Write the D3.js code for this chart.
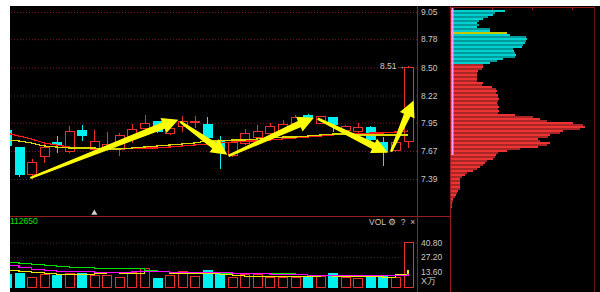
<!DOCTYPE html>
<html>
<head>
<meta charset="utf-8">
<script src="https://cdn.jsdelivr.net/npm/d3@7"></script>
<style>
  html, body { margin: 0; padding: 0; background: #fff; }
  svg { display: block; }
  text { font-family: "Liberation Sans", Arial, sans-serif; }
</style>
</head>
<body>
<div id="container"></div>
<script>
/* CONSTANTS AND GLOBALS */
const width = 600, height = 292;
const plotLeft = 10, plotRight = 417, profLeft = 450, profRight = 594;
const plotTop = 6, sep = 216;

/* DATA */
// candle index -1 is the half-hidden one at the left edge
const idx    = d3.range(-1, 32);
const opens  = [7.87,7.70,7.43,7.61,7.75,7.66,7.87,7.68,7.68,7.68,7.81,7.89,7.96,7.84,7.91,7.95,7.93,7.76,7.62,7.74,7.80,7.84,7.87,7.94,8.02,7.94,8.00,7.87,7.86,7.90,7.75,7.67,7.76];
const highs  = [7.90,7.71,7.59,7.75,7.82,7.92,7.93,7.88,7.86,7.85,7.94,8.03,7.97,7.90,8.02,8.02,8.01,7.82,7.76,7.89,7.93,7.95,7.98,8.03,8.04,8.02,8.01,7.93,7.95,7.92,7.81,7.75,8.51];
const lows   = [7.70,7.41,7.39,7.55,7.65,7.65,7.77,7.67,7.67,7.62,7.75,7.88,7.85,7.83,7.86,7.90,7.79,7.49,7.61,7.73,7.79,7.83,7.86,7.94,7.99,7.94,7.86,7.86,7.85,7.77,7.52,7.66,7.70];
const closes = [7.72,7.43,7.55,7.70,7.73,7.86,7.82,7.76,7.73,7.82,7.88,7.94,7.86,7.89,7.96,7.96,7.80,7.66,7.75,7.84,7.86,7.91,7.93,8.00,7.99,8.01,7.93,7.91,7.90,7.78,7.66,7.75,8.50];
const volumes = [11.3,12.2,8.4,11.3,10.3,12.2,12.2,10.3,10.3,8.4,13.1,16.9,7.5,10.3,14.1,9.4,15.0,11.3,8.4,11.3,11.3,8.4,8.4,8.4,8.4,9.4,12.2,8.4,7.5,8.4,9.4,8.4,40.8];

const maRed    = [7.847,7.817,7.788,7.748,7.728,7.708,7.698,7.688,7.688,7.688,7.698,7.698,7.698,7.708,7.718,7.728,7.738,7.748,7.758,7.768,7.768,7.778,7.788,7.798,7.807,7.817,7.827,7.837,7.837,7.847,7.847,7.857,7.867];
const maYellow = [7.778,7.768,7.748,7.718,7.708,7.698,7.698,7.698,7.688,7.688,7.698,7.708,7.718,7.728,7.738,7.748,7.768,7.768,7.778,7.778,7.788,7.798,7.807,7.807,7.817,7.827,7.837,7.837,7.827,7.827,7.827,7.827,7.827];

const volMaGreen  = [22.5,21.6,20.6,19.7,18.8,17.8,17.8,16.9,16.9,16.9,16.9,15.0,14.1,13.1,13.1,12.2,12.2,12.2,12.2,12.2,12.2,12.2,12.2,11.3,10.3,10.3,10.3,10.3,10.3,10.3,10.3,10.3,11.3];
const volMaPink   = [19.7,17.8,15.9,15.0,14.1,14.1,14.1,13.1,13.1,13.1,14.1,14.1,14.1,13.1,13.1,13.1,13.1,13.1,12.2,12.2,12.2,11.3,11.3,11.3,10.3,10.3,10.3,10.3,10.3,10.3,10.3,10.3,11.3];
const volMaYellow = [15.0,14.1,13.1,12.2,11.3,11.3,11.3,12.2,13.1,12.2,12.2,14.1,14.1,12.2,12.2,12.2,12.2,11.3,10.3,9.4,9.4,9.4,9.4,9.4,9.4,10.3,9.4,9.4,9.4,9.4,8.4,11.3,15.0];

const priceTicks = [9.05, 8.78, 8.50, 8.22, 7.95, 7.67, 7.39];
const volTicks = [13.60, 27.20, 40.80];

// trend arrows drawn on the chart: [fromIndex, fromPrice, toIndex, toPrice]
const arrows = [
  [0.9, 7.40, 12.7, 7.98],
  [12.85, 7.96, 16.6, 7.63],
  [16.7, 7.62, 23.5, 8.00],
  [23.8, 7.99, 29.4, 7.65],
  [29.65, 7.66, 31.45, 8.17]
];

// chip distribution, top price level first
const chipTop = 9.07, chipStep = 0.0199, chipSplit = 8.54, chipYellow = 11;
const chips = [54,44,42,37,32,28,26,28,26,39,39,56,59,75,76,75,74,72,71,62,63,64,65,64,52,46,39,
  32,32,31,27,26,26,26,26,26,32,31,41,45,46,45,47,47,48,47,46,47,48,47,48,47,64,82,89,96,122,132,134,129,112,109,99,97,
  87,89,99,96,87,69,56,47,45,44,42,36,34,32,29,26,22,16,14,11,9,9,9,9,9,9,7,6,5,4,2,2,1,1,1];

/* SCALES */
const x = d3.scaleLinear().domain([-1, 31]).range([6.5, 408]);
const yP = d3.scaleLinear().domain([7.39, 9.05]).range([179, 12]);
const yV = d3.scaleLinear().domain([0, 40.8]).range([286.5, 242.5]);
const xChip = d3.scaleLinear().domain([0, 134]).range([451, 585]);

const bodyW = 9;
const upCol = "#e8302c", downCol = "#00f0f0", frame = "#961e1e";

const svg = d3.select("#container").append("svg")
  .attr("width", width).attr("height", height);

svg.append("rect").attr("x", plotLeft).attr("y", plotTop)
  .attr("width", width - plotLeft).attr("height", height - plotTop).attr("fill", "#000");

const defs = svg.append("defs");
defs.append("clipPath").attr("id", "clipP").append("rect")
  .attr("x", plotLeft).attr("y", plotTop).attr("width", plotRight - plotLeft).attr("height", sep - plotTop);
defs.append("clipPath").attr("id", "clipV").append("rect")
  .attr("x", plotLeft).attr("y", sep + 1).attr("width", plotRight - plotLeft).attr("height", height - sep);

/* GRID */
const grid = svg.append("g")
  .attr("transform", `translate(${plotRight},0)`)
  .call(d3.axisLeft(yP).tickValues(priceTicks).tickSize(plotRight - plotLeft).tickFormat(""));
grid.select(".domain").remove();
grid.selectAll("line")
  .attr("stroke", (d, i) => (i === 3 || i === 6) ? "#4a3036" : "#7a1a2c")
  .attr("stroke-dasharray", "1,2");

const vgrid = svg.append("g")
  .attr("transform", `translate(${plotRight},0)`)
  .call(d3.axisLeft(yV).tickValues([27.2, 40.8]).tickSize(plotRight - plotLeft).tickFormat(""));
vgrid.select(".domain").remove();
vgrid.selectAll("line").attr("stroke", "#4a2a30").attr("stroke-dasharray", "1,2");

/* FRAME LINES */
svg.append("line").attr("x1", plotLeft).attr("x2", profLeft).attr("y1", sep + 0.5).attr("y2", sep + 0.5).attr("stroke", frame);
svg.append("line").attr("x1", plotRight + 0.5).attr("x2", plotRight + 0.5).attr("y1", plotTop).attr("y2", height).attr("stroke", frame);
svg.append("line").attr("x1", profLeft + 0.5).attr("x2", profLeft + 0.5).attr("y1", plotTop).attr("y2", height).attr("stroke", frame);
svg.append("line").attr("x1", profRight + 0.5).attr("x2", profRight + 0.5).attr("y1", plotTop).attr("y2", height).attr("stroke", "#5a1414");
svg.append("line").attr("x1", profLeft).attr("x2", profRight).attr("y1", plotTop + 1.5).attr("y2", plotTop + 1.5).attr("stroke", frame);
svg.selectAll("line.ptick").data([492, 532, 572]).join("line").attr("class", "ptick")
  .attr("x1", d => d + 0.5).attr("x2", d => d + 0.5).attr("y1", plotTop + 1).attr("y2", plotTop + 4).attr("stroke", frame);

/* CANDLES */
const cg = svg.append("g").attr("clip-path", "url(#clipP)").attr("shape-rendering", "crispEdges");
const bars = idx.map((d, i) => ({ i: d, o: opens[i], h: highs[i], l: lows[i], c: closes[i], v: volumes[i] }));

cg.selectAll("line.wick").data(bars).join("line").attr("class", "wick")
  .attr("x1", d => Math.round(x(d.i)) + 0.5).attr("x2", d => Math.round(x(d.i)) + 0.5)
  .attr("y1", d => yP(d.h)).attr("y2", d => yP(d.l))
  .attr("stroke", d => d.c >= d.o ? upCol : downCol);

cg.selectAll("rect.body").data(bars).join("rect").attr("class", "body")
  .attr("x", d => Math.round(x(d.i) - bodyW / 2) + 0.5)
  .attr("y", d => yP(Math.max(d.o, d.c)))
  .attr("width", bodyW)
  .attr("height", d => Math.max(1, yP(Math.min(d.o, d.c)) - yP(Math.max(d.o, d.c))))
  .attr("fill", d => d.c >= d.o ? "#000" : downCol)
  .attr("stroke", d => d.c >= d.o ? upCol : downCol);

/* MOVING AVERAGES */
const maLine = arr => d3.line().x((d, i) => x(idx[i])).y(d => yP(d))(arr);
cg.append("path").attr("d", maLine(maRed)).attr("fill", "none").attr("stroke", "#ff1a1a").attr("stroke-width", 1.2);
cg.append("path").attr("d", maLine(maYellow)).attr("fill", "none").attr("stroke", "#d8d800").attr("stroke-width", 1.2);

/* ARROWS */
function arrowPath(a) {
  const sx = x(a[0]), sy = yP(a[1]), ex = x(a[2]), ey = yP(a[3]);
  const L = Math.hypot(ex - sx, ey - sy);
  const ux = (ex - sx) / L, uy = (ey - sy) / L, nx = -uy, ny = ux;
  const hl = 16, hw = 8;
  const bx = ex - ux * hl, by = ey - uy * hl;
  const p = [
    [sx + nx * 1.2, sy + ny * 1.2], [bx + nx * 3.5, by + ny * 3.5], [bx + nx * hw, by + ny * hw],
    [ex, ey],
    [bx - nx * hw, by - ny * hw], [bx - nx * 3.5, by - ny * 3.5], [sx - nx * 1.2, sy - ny * 1.2]
  ];
  return "M" + p.map(q => q.join(",")).join("L") + "Z";
}
svg.selectAll("path.arrow").data(arrows).join("path").attr("class", "arrow")
  .attr("d", arrowPath).attr("fill", "#ffff00");

/* LABELS IN PRICE PANEL */
svg.append("text").attr("x", x(31) - 3).attr("y", yP(8.51) + 3)
  .attr("text-anchor", "end").attr("font-size", 8.5).attr("fill", "#c8c8c8").text("8.51→");

const pAxis = svg.append("g").attr("transform", `translate(${plotRight},0)`)
  .call(d3.axisRight(yP).tickValues(priceTicks).tickSize(0).tickPadding(4).tickFormat(d3.format(".2f")));
pAxis.select(".domain").remove();
pAxis.selectAll("text").attr("fill", "#c8c8c8").attr("font-size", 8.5).attr("font-family", "Liberation Sans, Arial, sans-serif");

/* VOLUME PANEL */
const vg = svg.append("g").attr("clip-path", "url(#clipV)").attr("shape-rendering", "crispEdges");
vg.selectAll("rect.vol").data(bars).join("rect").attr("class", "vol")
  .attr("x", d => Math.round(x(d.i) - bodyW / 2) + 0.5)
  .attr("y", d => yV(d.v))
  .attr("width", bodyW)
  .attr("height", d => yV(0) - yV(d.v) + 1)
  .attr("fill", d => d.c >= d.o ? "#000" : downCol)
  .attr("stroke", d => d.c >= d.o ? upCol : downCol);

const vLine = arr => d3.line().x((d, i) => x(idx[i])).y(d => yV(d)).curve(d3.curveStepAfter)(arr);
vg.append("path").attr("d", vLine(volMaGreen)).attr("fill", "none").attr("stroke", "#00e000").attr("stroke-width", 1.2);
vg.append("path").attr("d", vLine(volMaYellow)).attr("fill", "none").attr("stroke", "#e8e800").attr("stroke-width", 1.2);
vg.append("path").attr("d", vLine(volMaPink)).attr("fill", "none").attr("stroke", "#ff00ff").attr("stroke-width", 1.2);

const vAxis = svg.append("g").attr("transform", `translate(${plotRight},0)`)
  .call(d3.axisRight(yV).tickValues(volTicks).tickSize(0).tickPadding(4).tickFormat(d3.format(".2f")));
vAxis.select(".domain").remove();
vAxis.selectAll("text").attr("fill", "#c8c8c8").attr("font-size", 8.5).attr("font-family", "Liberation Sans, Arial, sans-serif");

svg.append("text").attr("x", 421).attr("y", 284).attr("font-size", 9).attr("fill", "#c8c8c8")
  .attr("font-family", "Noto Sans CJK SC, sans-serif").text("X万");

svg.append("text").attr("x", plotLeft).attr("y", 224).attr("font-size", 8.5).attr("fill", "#00e000").text("112650");
svg.append("text").attr("x", 369).attr("y", 224.5).attr("font-size", 8.5).attr("fill", "#c8c8c8")
  .attr("xml:space", "preserve").text("VOL ⚙  ?  ×");

svg.append("path").attr("d", d3.symbol(d3.symbolTriangle, 16)())
  .attr("transform", `translate(${x(6)},213)`).attr("fill", "#d0d0d0");

/* CHIP DISTRIBUTION */
const chipData = chips.map((v, i) => ({ i, v, p: chipTop - i * chipStep }));
svg.append("g").attr("shape-rendering", "crispEdges")
  .selectAll("rect").data(chipData).join("rect")
  .attr("x", xChip(0))
  .attr("y", d => Math.round(yP(d.p)))
  .attr("width", d => xChip(d.v) - xChip(0))
  .attr("height", 1.6)
  .attr("fill", d => {
    if (d.i === chipYellow) return "#c8c800";
    if (d.p > chipSplit) return d.i % 2 ? "#009a9a" : "#00d0d0";
    return d.i % 2 ? "#a82626" : "#ec3434";
  });

svg.append("line").attr("x1", 452.5).attr("x2", 452.5).attr("y1", plotTop + 2).attr("y2", 155)
  .attr("stroke", "#ff9cff").attr("stroke-width", 2);
</script>
</body>
</html>
